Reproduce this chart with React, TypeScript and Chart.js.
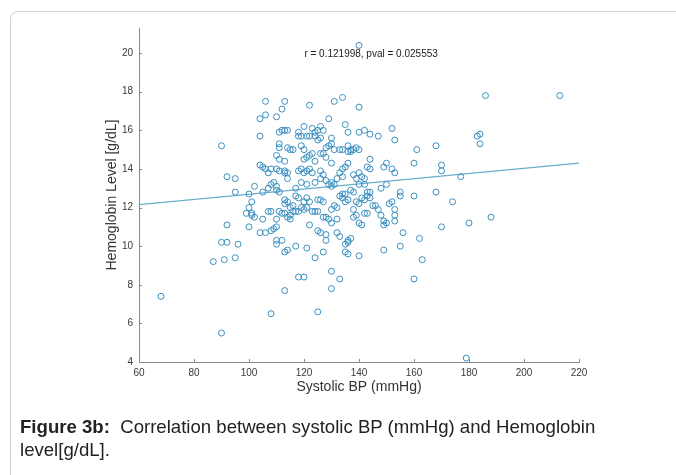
import React, { useEffect, useRef } from 'react';
import { Chart, registerables } from 'chart.js';

Chart.register(...registerables);

// Systolic BP (mmHg) for each subject
const sbp = [
  68, 90, 87, 91, 95, 90, 92, 96, 92, 90, 92, 95, 95, 140, 179, 186, 213, 183, 184, 184,
  177, 174, 180, 188, 170, 168, 170, 170, 168, 161, 160, 160, 162, 163, 160, 155, 155, 156, 155, 152,
  153, 152, 153, 150, 149, 151, 152, 153, 153, 153, 150, 148, 149, 150, 149, 148, 149, 147, 144, 142,
  140, 140, 134, 131, 129, 135, 136, 130, 122, 106, 113, 112, 104, 106, 110, 104, 111, 112, 113, 114,
  118, 118, 119, 121, 122, 124, 124, 120, 123, 125, 126, 127, 125, 126, 111, 111, 114, 115, 119, 120,
  122, 121, 120, 110, 111, 113, 104, 105, 106, 107, 108, 110, 111, 113, 114, 116, 118, 119, 120, 121,
  122, 123, 123, 124, 126, 127, 128, 129, 130, 131, 133, 134, 136, 137, 138, 139, 140, 136, 137, 128,
  130, 133, 134, 135, 136, 138, 140, 141, 142, 142, 143, 144, 144, 126, 127, 126, 128, 129, 130, 130,
  131, 132, 134, 124, 121, 119, 117, 114, 113, 110, 109, 108, 111, 110, 107, 105, 102, 100, 101, 100,
  101, 99, 100, 101, 102, 105, 104, 106, 108, 109, 110, 110, 108, 111, 112, 110, 112, 110, 113, 114,
  117, 121, 124, 127, 118, 120, 113, 108, 125, 130, 133, 130, 140, 135, 136, 135, 136, 137, 136, 133,
  132, 128, 128, 125, 126, 122, 127, 128, 129, 130, 132, 138, 139, 140, 141, 142, 143, 138, 139, 140,
  141, 142, 143, 144, 144, 143, 145, 146, 147, 135, 134, 133, 134, 135, 136, 137, 138, 131, 130, 132,
  127, 126, 125, 121, 120, 122, 119, 120, 121, 118, 117, 123, 124, 125, 116, 115, 114, 115, 113, 114,
  113, 115, 116, 117, 118, 113, 107, 140, 139,
];

// Hemoglobin level (g/dL) for each subject, same order as sbp
const hb = [
  7.4, 5.5, 9.2, 9.3, 9.4, 10.2, 10.2, 10.1, 11.1, 15.2, 13.6, 13.5, 12.8, 20.4, 4.2, 17.8, 17.8, 15.7, 15.8, 15.3,
  13.6, 12.3, 11.2, 11.5, 11.0, 15.2, 14.2, 13.9, 12.8, 15.0, 14.3, 12.6, 10.4, 9.3, 8.3, 12.8, 12.6, 10.7, 10.0, 16.1,
  15.5, 14.0, 13.8, 14.3, 14.1, 12.2, 12.3, 11.9, 11.6, 11.3, 13.2, 13.0, 11.3, 11.2, 11.1, 11.6, 9.8, 15.7, 15.8, 16.0,
  15.9, 17.2, 17.7, 17.5, 16.6, 16.3, 15.9, 15.6, 17.3, 17.5, 17.5, 17.1, 16.6, 16.8, 16.7, 15.7, 15.9, 16.0, 16.0, 16.0,
  15.9, 15.7, 15.7, 15.7, 15.7, 15.7, 15.9, 16.2, 16.1, 16.0, 16.2, 16.0, 15.5, 15.6, 15.3, 15.1, 15.1, 15.0, 15.2, 15.0,
  14.7, 14.6, 14.5, 14.7, 14.5, 14.4, 14.2, 14.1, 14.0, 13.8, 14.0, 14.0, 13.9, 13.9, 13.8, 15.0, 13.9, 14.0, 13.8, 13.9,
  14.0, 13.8, 14.8, 14.4, 14.8, 14.8, 15.1, 15.2, 15.3, 15.0, 15.0, 15.0, 15.2, 15.0, 15.0, 15.1, 15.0, 14.9, 14.9, 14.6,
  14.3, 13.8, 14.0, 14.1, 14.3, 13.7, 13.8, 13.6, 13.5, 13.2, 14.1, 14.5, 14.0, 13.9, 13.7, 13.5, 13.4, 13.2, 13.1, 13.3,
  13.2, 13.5, 13.6, 13.3, 13.2, 13.3, 13.0, 13.5, 13.8, 13.1, 13.3, 13.2, 12.8, 12.9, 13.0, 12.8, 13.1, 12.7, 12.3, 12.0,
  11.7, 11.7, 11.0, 11.6, 11.5, 11.4, 10.7, 10.7, 10.8, 10.9, 11.0, 11.4, 11.8, 11.8, 11.7, 10.3, 10.3, 10.1, 9.7, 9.8,
  10.0, 9.9, 9.4, 9.7, 8.4, 8.4, 7.7, 6.5, 6.6, 8.7, 8.3, 7.8, 9.5, 9.7, 9.6, 10.1, 10.2, 10.4, 10.3, 10.5,
  10.7, 10.6, 10.3, 10.8, 10.7, 11.1, 11.5, 11.5, 11.4, 11.2, 11.4, 11.5, 11.6, 11.2, 11.1, 11.7, 11.7, 11.9, 12.3, 12.2,
  12.5, 12.4, 12.6, 12.5, 12.8, 12.8, 12.1, 12.1, 11.9, 12.3, 12.5, 12.6, 12.7, 12.7, 12.4, 12.9, 12.8, 12.1, 11.9, 12.0,
  12.3, 12.4, 12.4, 12.5, 12.3, 12.3, 12.0, 11.9, 12.0, 11.8, 11.8, 11.8, 11.8, 11.8, 11.8, 11.6, 11.5, 11.4, 12.2, 12.3,
  12.4, 12.0, 12.1, 12.6, 12.5, 11.7, 11.8, 13.2, 13.5,
];

// Least-squares fit line end points
const fitX = [60, 220];
const fitY = [12.15, 14.3];

const xTicks = [60, 80, 100, 120, 140, 160, 180, 200, 220];
const yTicks = [4, 6, 8, 10, 12, 14, 16, 18, 20];

const annotationText = 'r = 0.121998, pval = 0.025553';
const annotationX = 144.4;
const annotationY = 19.95;

const FONT = '"Liberation Sans", Arial, Helvetica, sans-serif';

const matlabPlugin = {
  id: 'matlabExtras',
  afterDatasetsDraw(chart: any) {
    const { ctx, chartArea, scales } = chart;
    const x = scales.x;
    const y = scales.y;
    ctx.save();
    ctx.strokeStyle = '#8a8a8a';
    ctx.lineWidth = 1;
    ctx.beginPath();
    for (const v of xTicks) {
      const px = Math.round(x.getPixelForValue(v)) + 0.5;
      ctx.moveTo(px, chartArea.bottom);
      ctx.lineTo(px, chartArea.bottom - 3);
    }
    for (const v of yTicks) {
      const py = Math.round(y.getPixelForValue(v)) + 0.5;
      ctx.moveTo(chartArea.left, py);
      ctx.lineTo(chartArea.left + 3, py);
    }
    ctx.stroke();
    ctx.fillStyle = '#222';
    ctx.font = `10px ${FONT}`;
    ctx.textAlign = 'center';
    ctx.textBaseline = 'middle';
    ctx.fillText(annotationText, x.getPixelForValue(annotationX), y.getPixelForValue(annotationY));
    ctx.restore();
  },
};

export default function App() {
  const canvasRef = useRef<HTMLCanvasElement | null>(null);

  useEffect(() => {
    if (!canvasRef.current) return;
    const points = sbp.map((v, i) => ({ x: v, y: hb[i] }));
    const fit = fitX.map((v, i) => ({ x: v, y: fitY[i] }));
    const chart = new Chart(canvasRef.current, {
      type: 'scatter',
      data: {
        datasets: [
          {
            type: 'scatter',
            label: 'Subjects',
            data: points,
            pointStyle: 'circle',
            pointRadius: 3,
            pointBorderWidth: 1,
            borderColor: '#3a8fc0',
            backgroundColor: 'rgba(0,0,0,0)',
          },
          {
            type: 'line',
            label: 'Fit',
            data: fit,
            borderColor: '#6aaecb',
            borderWidth: 1.3,
            pointRadius: 0,
            fill: false,
          },
        ],
      } as any,
      options: {
        animation: false,
        responsive: false,
        devicePixelRatio: 1,
        layout: { padding: { left: 100, right: 97, top: 28, bottom: 75 } },
        plugins: {
          legend: { display: false },
          tooltip: { enabled: false },
          title: { display: false },
        },
        scales: {
          x: {
            type: 'linear',
            min: 60,
            max: 220,
            afterBuildTicks: (s: any) => {
              s.ticks = xTicks.map((value) => ({ value }));
            },
            afterFit: (s: any) => {
              s.height = 38;
            },
            grid: { display: false, drawTicks: false, tickLength: 0 },
            border: { display: true, color: '#8a8a8a', width: 1 },
            ticks: {
              font: { family: FONT, size: 10 },
              color: '#3a3a3a',
              padding: 5,
              maxRotation: 0,
              autoSkip: false,
            },
            title: {
              display: true,
              text: 'Systolic BP (mmHg)',
              font: { family: FONT, size: 14 },
              color: '#333',
              padding: { top: 0, bottom: 4 },
            },
          },
          y: {
            type: 'linear',
            min: 4,
            max: 21.3,
            afterBuildTicks: (s: any) => {
              s.ticks = yTicks.map((value) => ({ value }));
            },
            afterFit: (s: any) => {
              s.width = 39;
            },
            grid: { display: false, drawTicks: false, tickLength: 0 },
            border: { display: true, color: '#8a8a8a', width: 1 },
            ticks: {
              font: { family: FONT, size: 10 },
              color: '#3a3a3a',
              padding: 6,
              autoSkip: false,
            },
            title: {
              display: true,
              text: 'Hemoglobin Level [g/dL]',
              font: { family: FONT, size: 14 },
              color: '#333',
              padding: { top: 4, bottom: 0 },
            },
          },
        },
      } as any,
      plugins: [matlabPlugin],
    });
    return () => chart.destroy();
  }, []);

  return (
    <div
      style={{
        position: 'fixed',
        left: 0,
        top: 0,
        width: 676,
        height: 475,
        overflow: 'hidden',
        background: '#fff',
      }}
    >
      <div
        style={{
          position: 'absolute',
          left: 10,
          top: 11,
          width: 720,
          height: 520,
          border: '1px solid #d2d2d2',
          borderRadius: 8,
          boxSizing: 'border-box',
        }}
      />
      <canvas
        ref={canvasRef}
        width={676}
        height={475}
        style={{ position: 'absolute', left: 0, top: 0, width: 676, height: 475 }}
      />
      <div
        style={{
          position: 'absolute',
          left: 20,
          top: 415,
          fontFamily: FONT,
          fontSize: 18.6,
          lineHeight: '23px',
          color: '#222',
          whiteSpace: 'pre',
        }}
      >
        <b>Figure 3b:</b>
        {'  Correlation between systolic BP (mmHg) and Hemoglobin'}
        <br />
        {'level[g/dL].'}
      </div>
    </div>
  );
}
